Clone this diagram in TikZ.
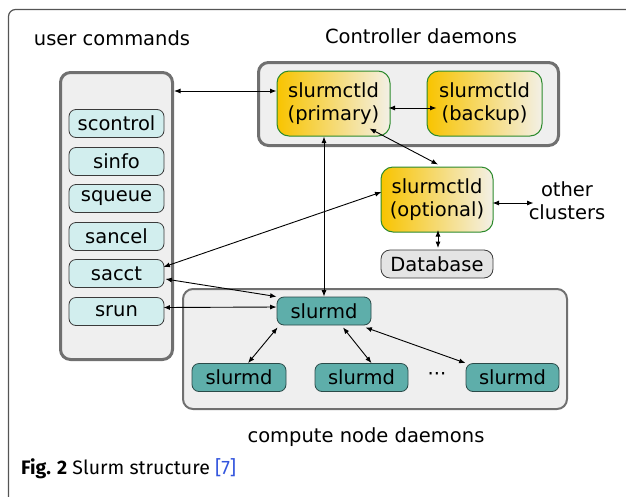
\documentclass[tikz,border=0pt]{standalone}
\usepackage{fontspec}
\setmainfont{DejaVu Sans}
\newfontfamily\capfont{Fira Sans}
\usetikzlibrary{arrows.meta,calc}
\definecolor{framegray}{HTML}{707070}
\definecolor{outergray}{HTML}{555555}
\definecolor{panelgray}{HTML}{EFEFEF}
\definecolor{cmdfill}{HTML}{D2EEEE}
\definecolor{boxline}{HTML}{3A3A3A}
\definecolor{tealfill}{HTML}{5EAEAA}
\definecolor{tealline}{HTML}{2A4A48}
\definecolor{dbfill}{HTML}{E4E4E4}
\definecolor{ctlA}{HTML}{F8C400}
\definecolor{ctlB}{HTML}{F3F0E6}
\definecolor{ctlline}{HTML}{2C8A2C}
\definecolor{citeblue}{HTML}{3355DD}
\begin{document}
\begin{tikzpicture}[x=1pt,y=-1pt,
  txt/.style={font=\fontsize{19.5}{23}\selectfont, inner sep=0pt},
  container/.style={draw=framegray, line width=3pt, fill=panelgray, rounded corners=10pt, inner sep=0pt},
  cmd/.style={txt, draw=boxline, line width=0.8pt, fill=cmdfill, rounded corners=7pt, minimum width=95pt, minimum height=28pt},
  ctl/.style={txt, align=center, draw=ctlline, line width=1pt, left color=ctlA, right color=ctlB, rounded corners=12pt, minimum height=65pt},
  dbbox/.style={txt, draw=boxline, line width=0.8pt, fill=dbfill, rounded corners=9pt, minimum width=112pt, minimum height=28pt},
  smd/.style={txt, draw=tealline, line width=0.8pt, fill=tealfill, rounded corners=7pt, minimum width=94pt, minimum height=28pt},
  dar/.style={{Latex[length=6.5pt,width=5pt]}-{Latex[length=6.5pt,width=5pt]}, line width=0.9pt, black}
]
\useasboundingbox (0,0) rectangle (626,496);
\begin{scope}
\clip (0,0) rectangle (626,496);
\draw[outergray, line width=1.2pt, rounded corners=7pt] (8.5,520) -- (8.5,9.5) -- (650,9.5);
\end{scope}

% containers
\node[container, minimum width=112pt, minimum height=287pt] (uc) at (116.5,216) {};
\node[container, minimum width=300pt, minimum height=83pt] (ctlgrp) at (408.5,104) {};
\node[container, line width=2pt, minimum width=384pt, minimum height=120pt] (cmpgrp) at (375,349) {};

% labels
\node[txt] (lbluc) at (112,38) {user commands};
\node[txt] (lblctl) at (421,36) {Controller daemons};
\node[txt] (lblcmp) at (366,437) {compute node daemons};
\node[txt, align=center] (other) at (567,201) {other\\clusters};

% commands
\node[cmd] (scontrol) at (116.5,123.5) {scontrol};
\node[cmd] (sinfo) at (116.5,161.5) {sinfo};
\node[cmd] (squeue) at (116.5,198.5) {squeue};
\node[cmd] (sancel) at (116.5,236.5) {sancel};
\node[cmd] (sacct) at (116.5,273.5) {sacct};
\node[cmd] (srun) at (116.5,311.5) {srun};

% controllers
\node[ctl, minimum width=113pt] (primary) at (333.5,103.5) {slurmctld\\(primary)};
\node[ctl, minimum width=115pt] (backup) at (484.5,103.5) {slurmctld\\(backup)};
\node[ctl, minimum width=112pt] (optional) at (437,199.5) {slurmctld\\(optional)};
\node[dbbox] (db) at (437,264) {Database};

% compute daemons
\node[smd] (slurmd) at (324,311) {slurmd};
\node[smd] (sd1) at (239,377.5) {slurmd};
\node[smd, minimum width=93pt] (sd2) at (361.5,377.5) {slurmd};
\node[smd, minimum width=93pt] (sd3) at (512.5,377.5) {slurmd};
\node[txt] (dots) at (437,377) {···};

% connectors
\coordinate (pA) at ([yshift=12.5pt]primary.west);
\draw[dar] (pA -| uc.east) -- (pA);
\draw[dar] ([yshift=-4.5pt,xshift=-2pt]primary.east) -- ([yshift=-4.5pt,xshift=10pt]backup.west);
\draw[dar] ([xshift=-21pt,yshift=8pt]primary.south east) -- ([xshift=1pt,yshift=2pt]optional.north);
\draw[dar] (slurmd.north |- primary.south) -- (slurmd.north);
\coordinate (oc) at ([xshift=5pt,yshift=-2pt]other.west);
\draw[dar] ([yshift=-3.5pt,xshift=-1pt]optional.east) -- (oc);
\draw[dar] ([xshift=1pt,yshift=2.5pt]optional.south) -- ([xshift=1pt,yshift=1.5pt]db.north);
\draw[dar] ([yshift=7.5pt,xshift=1pt]optional.west) -- ([yshift=6.5pt,xshift=-1pt]sacct.east);
\draw[dar] ([yshift=-5.5pt,xshift=1pt]sacct.east) -- (slurmd.north west);
\draw[dar] ([yshift=4pt,xshift=-1pt]srun.east) -- ([yshift=4pt]slurmd.west);
\draw[dar] ([xshift=1pt,yshift=-2pt]slurmd.south west) -- ([xshift=9pt]sd1.north);
\draw[dar] ([xshift=19pt,yshift=-2pt]slurmd.south) -- ([xshift=10pt]sd2.north);
\draw[dar] ([xshift=-6pt,yshift=-2pt]slurmd.south east) -- (sd3.north west);

% caption
\node[anchor=base west, inner sep=0pt, font=\capfont\fontsize{19.5}{23}\selectfont] (cap) at (21,474) {\textbf{Fig. 2} Slurm structure {\color{citeblue}[7]}};
\end{tikzpicture}
\end{document}
